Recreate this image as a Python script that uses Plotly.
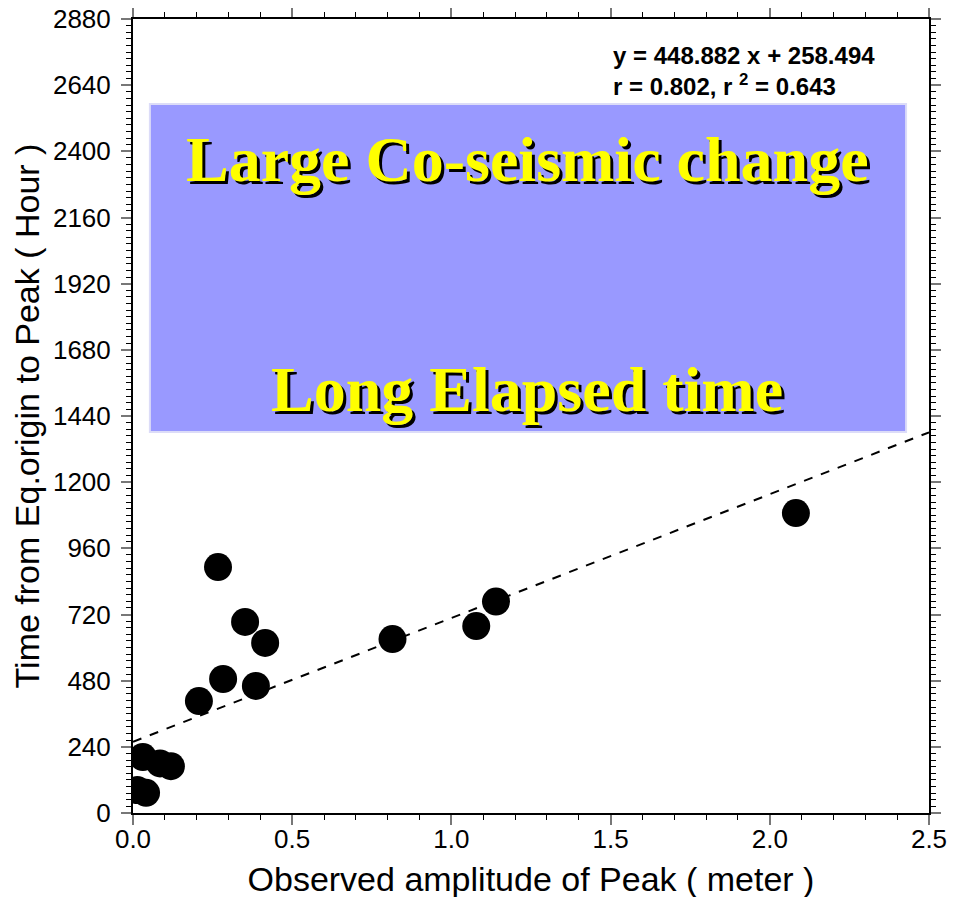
import plotly.graph_objects as go

# Data
amplitude_m = [2.082, 1.140, 1.078, 0.815, 0.415, 0.352, 0.267, 0.283, 0.386, 0.207,
               0.031, 0.085, 0.119, 0.013, 0.041]
time_hour = [1088, 767, 678, 631, 617, 693, 892, 486, 461, 406,
             203, 180, 170, 83, 73]

slope = 448.882
intercept = 258.494
fit_x = [0.0, 2.5]
fit_y = [slope * v + intercept for v in fit_x]

x_ticks = [0.0, 0.5, 1.0, 1.5, 2.0, 2.5]
x_tick_labels = ["0.0", "0.5", "1.0", "1.5", "2.0", "2.5"]
y_ticks = list(range(0, 2881, 240))
y_tick_labels = [str(v) for v in y_ticks]

fig = go.Figure()

fig.add_shape(type="rect", xref="x", yref="y",
              x0=0.053, x1=2.428, y0=1382, y1=2572,
              fillcolor="#9999ff", line=dict(color="#dcdcf8", width=2), layer="below")

fig.add_trace(go.Scatter(x=fit_x, y=fit_y, mode="lines",
                         line=dict(color="black", width=2, dash="dash"),
                         hoverinfo="skip", showlegend=False))
fig.add_trace(go.Scatter(x=amplitude_m, y=time_hour, mode="markers",
                         marker=dict(color="black", size=28, line=dict(width=0)),
                         showlegend=False))

shadow = "3px 3px 0px black"
big_font = dict(family="Liberation Serif, Times New Roman, serif", size=64,
                color="#ffff00", shadow=shadow)
fig.add_annotation(x=0.495, xref="paper", y=2370, yref="y", text="<b>Large Co-seismic change</b>",
                   showarrow=False, xanchor="center", yanchor="middle", font=big_font)
fig.add_annotation(x=0.495, xref="paper", y=1536, yref="y", text="<b>Long Elapsed time</b>",
                   showarrow=False, xanchor="center", yanchor="middle", font=big_font)
fig.add_annotation(x=0.6, xref="paper", y=2692, yref="y", align="left",
                   text="<b>y = 448.882 x + 258.494<br>r = 0.802, r <sup>2</sup> = 0.643</b>",
                   showarrow=False, xanchor="left", yanchor="middle",
                   font=dict(family="Liberation Sans, Arial, sans-serif", size=24, color="black"))

axis_font = dict(family="Liberation Sans, Arial, sans-serif", size=26, color="black")
title_font = dict(family="Liberation Sans, Arial, sans-serif", size=34, color="black")
fig.update_xaxes(range=[0, 2.5], tickvals=x_ticks, ticktext=x_tick_labels, automargin=False,
                 showgrid=False, zeroline=False, showline=True, linecolor="black", linewidth=2,
                 mirror="ticks", ticks="outside", ticklen=10, tickcolor="#777", tickwidth=2,
                 minor=dict(dtick=0.1, ticks="outside", ticklen=5, tickcolor="black", tickwidth=1),
                 tickfont=axis_font, ticklabelstandoff=-8, ticklabeloverflow="allow",
                 title=dict(text="Observed amplitude of Peak ( meter )", font=title_font, standoff=14))
fig.update_yaxes(range=[0, 2880], tickvals=y_ticks, ticktext=y_tick_labels, automargin=False,
                 showgrid=False, zeroline=False, showline=True, linecolor="black", linewidth=2,
                 mirror="ticks", ticks="outside", ticklen=10, tickcolor="#777", tickwidth=2,
                 minor=dict(dtick=24, ticks="outside", ticklen=5, tickcolor="black", tickwidth=1),
                 tickfont=axis_font, ticklabelstandoff=5, ticklabeloverflow="allow",
                 title=dict(text="Time from Eq.origin to Peak ( Hour )", font=title_font, standoff=4))

# the page body adds an 8px offset, so margins are shifted accordingly
fig.update_layout(width=961, height=897, margin=dict(l=125, r=40, t=11, b=92),
                  plot_bgcolor="white", paper_bgcolor="white")

fig.write_html("out.html")
